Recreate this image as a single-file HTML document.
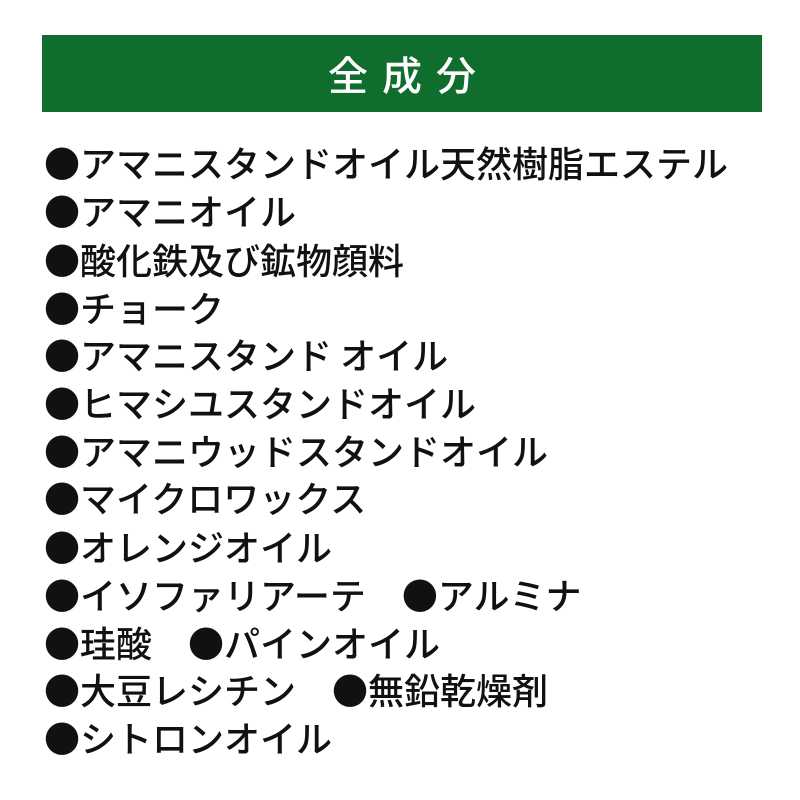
<!DOCTYPE html>
<html><head><meta charset="utf-8"><style>
body{margin:0;width:800px;height:800px;background:#fff;position:relative;overflow:hidden;font-family:"Noto Sans CJK JP",sans-serif;}
.bar{position:absolute;left:42px;top:35px;width:720px;height:77px;background:#0f6e2d;color:#fff;font-size:40px;text-align:center;line-height:77px;letter-spacing:14px;text-indent:14px;font-weight:500;}
.l{position:absolute;left:44px;font-size:36px;line-height:48px;color:#111;white-space:pre;font-weight:500;letter-spacing:0;}
</style></head><body>
<div class="bar">全成分</div>
<div class="l" style="top:138px">●アマニスタンドオイル天然樹脂エステル</div>
<div class="l" style="top:186px">●アマニオイル</div>
<div class="l" style="top:235px">●酸化鉄及び鉱物顔料</div>
<div class="l" style="top:283px">●チョーク</div>
<div class="l" style="top:330px">●アマニスタンド オイル</div>
<div class="l" style="top:378px">●ヒマシユスタンドオイル</div>
<div class="l" style="top:426px">●アマニウッドスタンドオイル</div>
<div class="l" style="top:473px">●マイクロワックス</div>
<div class="l" style="top:522px">●オレンジオイル</div>
<div class="l" style="top:570px">●イソファリアーテ　●アルミナ</div>
<div class="l" style="top:618px">●珪酸　●パインオイル</div>
<div class="l" style="top:665px">●大豆レシチン　●無鉛乾燥剤</div>
<div class="l" style="top:713px">●シトロンオイル</div>
</body></html>
